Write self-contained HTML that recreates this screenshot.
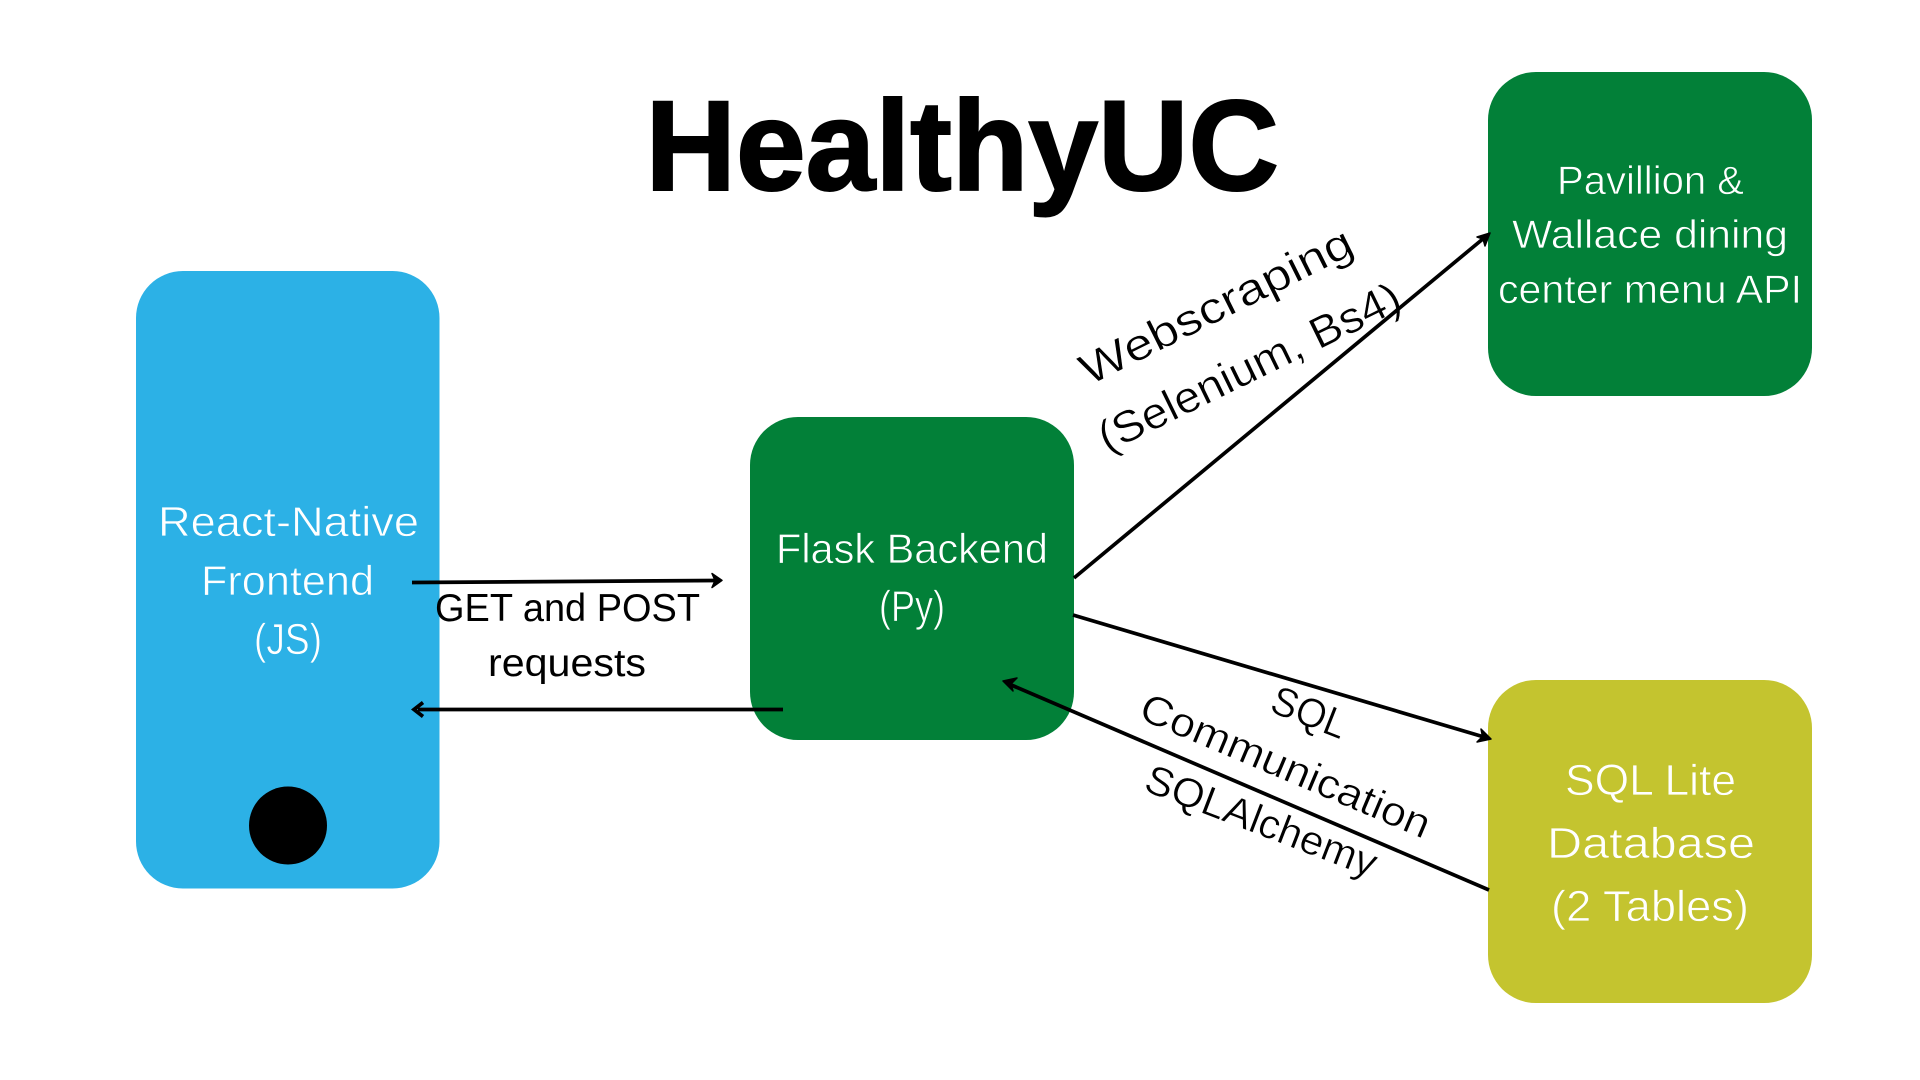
<!DOCTYPE html>
<html lang="en">
<head>
<meta charset="utf-8">
<title>HealthyUC</title>
<style>
html,body{margin:0;padding:0;background:#fff;width:1920px;height:1080px;overflow:hidden}
svg{display:block}
text{font-family:"Liberation Sans",sans-serif}
.w{fill:#fff;stroke-width:.7}
.k{fill:#000;stroke:#fff;stroke-width:.5}
.a{fill:none;stroke:#000;stroke-width:3.7;stroke-linecap:butt}
.h{fill:#000;stroke:#000;stroke-width:1.5;stroke-linejoin:round}
</style>
</head>
<body>
<svg width="1920" height="1080" viewBox="0 0 1920 1080" xmlns="http://www.w3.org/2000/svg">
<rect width="1920" height="1080" fill="#fff"/>

<!-- boxes -->
<rect x="136" y="271" width="303.5" height="617.5" rx="47" fill="#2cb1e6"/>
<circle cx="288" cy="825.5" r="39" fill="#000"/>
<rect x="750" y="417" width="324" height="323" rx="48" fill="#028038"/>
<rect x="1488" y="72" width="324" height="324" rx="48" fill="#028038"/>
<rect x="1488" y="680" width="324" height="323" rx="48" fill="#c4c42f"/>

<!-- title -->
<text x="645.5" y="190" font-size="128" font-weight="700" textLength="633.5" lengthAdjust="spacingAndGlyphs" fill="#000" stroke="#000" stroke-width="2">HealthyUC</text>

<!-- blue box -->
<text class="w" stroke="#2cb1e6" x="158" y="536" font-size="42" textLength="261" lengthAdjust="spacingAndGlyphs">React-Native</text>
<text class="w" stroke="#2cb1e6" x="201" y="595" font-size="42" textLength="173" lengthAdjust="spacingAndGlyphs">Frontend</text>
<text class="w" stroke="#2cb1e6" x="254" y="654" font-size="44" textLength="68" lengthAdjust="spacingAndGlyphs">(JS)</text>

<!-- flask -->
<text class="w" stroke="#028038" x="776" y="563" font-size="42" textLength="272" lengthAdjust="spacingAndGlyphs">Flask Backend</text>
<text class="w" stroke="#028038" x="879" y="621" font-size="44" textLength="66" lengthAdjust="spacingAndGlyphs">(Py)</text>

<!-- pavillion -->
<text class="w" stroke="#028038" x="1557" y="194" font-size="40" textLength="187" lengthAdjust="spacingAndGlyphs">Pavillion &amp;</text>
<text class="w" stroke="#028038" x="1512" y="248" font-size="40" textLength="276" lengthAdjust="spacingAndGlyphs">Wallace dining</text>
<text class="w" stroke="#028038" x="1498" y="303" font-size="40" textLength="304" lengthAdjust="spacingAndGlyphs">center menu API</text>

<!-- sql -->
<text class="w" stroke="#c4c42f" x="1565" y="795" font-size="44" textLength="171" lengthAdjust="spacingAndGlyphs">SQL Lite</text>
<text class="w" stroke="#c4c42f" x="1547" y="858" font-size="44" textLength="208" lengthAdjust="spacingAndGlyphs">Database</text>
<text class="w" stroke="#c4c42f" x="1551" y="921" font-size="44" textLength="198" lengthAdjust="spacingAndGlyphs">(2 Tables)</text>

<!-- connector labels -->
<text x="435" y="621" font-size="39" textLength="265" lengthAdjust="spacingAndGlyphs" fill="#000">GET and POST</text>
<text x="488" y="676" font-size="39" textLength="158" lengthAdjust="spacingAndGlyphs" fill="#000">requests</text>

<g transform="translate(1089,386) rotate(-26.5)"><text class="k" x="0" y="0" font-size="44" textLength="299" lengthAdjust="spacingAndGlyphs">Webscraping</text></g>
<g transform="translate(1107,453) rotate(-26)"><text class="k" x="0" y="0" font-size="44" textLength="331" lengthAdjust="spacingAndGlyphs">(Selenium, Bs4)</text></g>
<g transform="translate(1268,711) rotate(21.5)"><text class="k" x="0" y="0" font-size="41" textLength="78" lengthAdjust="spacingAndGlyphs">SQL</text></g>
<g transform="translate(1137,718) rotate(22.9)"><text class="k" x="0" y="0" font-size="41" textLength="311" lengthAdjust="spacingAndGlyphs">Communication</text></g>
<g transform="translate(1142,790) rotate(21)"><text class="k" x="0" y="0" font-size="41" textLength="245" lengthAdjust="spacingAndGlyphs">SQLAlchemy</text></g>

<!-- connectors -->
<line class="a" x1="412" y1="582.5" x2="716" y2="580.5"/>
<path class="h" d="M722 580.4 L712 573.5 L715 580.5 L712 587.5 Z"/>

<line class="a" x1="783" y1="709.5" x2="418" y2="709.5"/>
<path class="a" d="M423 702.5 L414 709.5 L423 716.5"/>

<line class="a" x1="1074" y1="578" x2="1484" y2="238"/>
<path class="h" d="M1490 233 L1477 237 L1483 239 L1485 246 Z"/>

<line class="a" x1="1073" y1="615" x2="1484" y2="737"/>
<path class="h" d="M1491 739 L1481 729 L1482.5 736.5 L1477 742 Z"/>

<line class="a" x1="1489" y1="890" x2="1009" y2="684"/>
<path class="h" d="M1003 681 L1013 691 L1011 684 L1017 678 Z"/>
</svg>
</body>
</html>
